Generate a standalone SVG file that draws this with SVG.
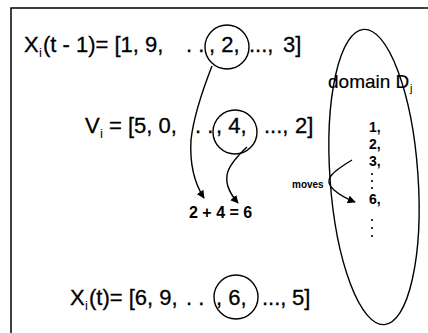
<svg xmlns="http://www.w3.org/2000/svg" width="428" height="333" viewBox="0 0 428 333">
<defs>
<style>
.t{font-family:"Liberation Sans",Arial,sans-serif;font-size:22px;fill:#000;stroke:#000;stroke-width:0.3}
.s{font-family:"Liberation Sans",Arial,sans-serif;font-size:13px;fill:#000}
.b{font-family:"Liberation Sans",Arial,sans-serif;font-weight:bold;fill:#000}
.ln{fill:none;stroke:#000;stroke-width:1.4}
</style>
<marker id="ah" viewBox="0 0 10 10" refX="9" refY="5" markerWidth="8" markerHeight="8" orient="auto" markerUnits="userSpaceOnUse">
<path d="M0,0 L10,5 L0,10 z" fill="#000"/>
</marker>
</defs>
<rect x="11" y="8" width="430" height="340" fill="#fff" stroke="#000" stroke-width="1.5"/>
<g id="line1">
<text class="t" x="24" y="52">X</text><text class="s" x="39" y="57">i</text>
<text class="t" x="43" y="52">(t - 1)= [1, 9,</text>
<text class="t" x="186" y="52">. .</text>
<text class="t" x="209" y="52">, 2,</text>
<text class="t" x="249" y="52">...,</text>
<text class="t" x="283" y="52">3]</text>
<circle class="ln" cx="227" cy="47" r="22"/>
</g>
<g id="line2">
<text class="t" x="85" y="133">V</text><text class="s" x="100" y="138">i</text>
<text class="t" x="109" y="133">= [5, 0,</text>
<text class="t" x="195" y="133">. .</text>
<text class="t" x="216" y="133">, 4,</text>
<text class="t" x="264" y="133">...,</text>
<text class="t" x="295" y="133">2]</text>
<circle class="ln" cx="235" cy="132" r="22"/>
</g>
<g id="line3">
<text class="t" x="70" y="305">X</text><text class="s" x="85" y="310">i</text>
<text class="t" x="89" y="305">(t)= [6, 9,</text>
<text class="t" x="186" y="305">. .</text>
<text class="t" x="216" y="305">, 6,</text>
<text class="t" x="262" y="305">...,</text>
<text class="t" x="292" y="305">5]</text>
<circle class="ln" cx="236" cy="297" r="22"/>
</g>
<g id="domain">
<ellipse class="ln" cx="374" cy="177" rx="44" ry="148" transform="rotate(-4 374 177)"/>
<text class="t" x="328" y="88" style="font-size:19px;stroke-width:0.2">domain D</text><text class="s" x="410" y="92" style="font-size:11px">j</text>
<text class="b" x="369" y="132" font-size="14">1,</text>
<text class="b" x="369" y="149" font-size="14">2,</text>
<text class="b" x="369" y="166" font-size="14">3,</text>
<text class="b" x="369" y="204" font-size="14">6,</text>
<g fill="#000"><circle cx="372" cy="174" r="1.1"/><circle cx="372" cy="181" r="1.1"/><circle cx="372" cy="188" r="1.1"/>
<circle cx="372" cy="220" r="1.1"/><circle cx="372" cy="228" r="1.1"/><circle cx="372" cy="236" r="1.1"/></g>
</g>
<g id="labels">
<text class="b" x="292" y="188" font-size="10">moves</text>
<text class="b" x="189" y="218" font-size="16">2 + 4 = 6</text>
</g>
<g id="connectors">
<path class="ln" d="M212,66 Q194,112 191,140 Q189,175 204,198" marker-end="url(#ah)"/>
<path class="ln" d="M247,147 C230,163 216,178 238,203" marker-end="url(#ah)"/>
<path class="ln" d="M352,160 C332,172 322,180 334,190 C341,196 347,199 355,202" marker-end="url(#ah)"/>
</g>
</svg>
